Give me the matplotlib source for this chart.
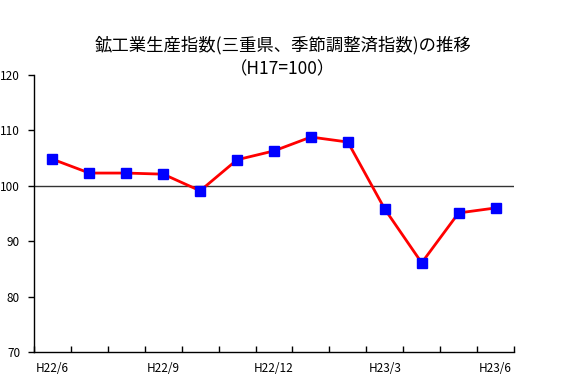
import matplotlib
matplotlib.use("Agg")
import matplotlib.pyplot as plt
import numpy as np

plt.rcParams["font.family"] = ["Noto Sans CJK JP", "DejaVu Sans"]

months = ["H22/6", "H22/7", "H22/8", "H22/9", "H22/10", "H22/11", "H22/12",
          "H23/1", "H23/2", "H23/3", "H23/4", "H23/5", "H23/6"]
index_values = [104.8, 102.3, 102.3, 102.1, 99.1, 104.7, 106.3,
                108.8, 107.9, 95.8, 86.1, 95.1, 96.0]
shown_labels = ["H22/6", "H22/9", "H22/12", "H23/3", "H23/6"]
title = "鉱工業生産指数(三重県、季節調整済指数)の推移\n（H17=100）"

fig = plt.figure(figsize=(5.66, 3.83), dpi=100)
ax = fig.add_axes([34 / 566, 1 - 352 / 383, 480 / 566, 277 / 383])

x = np.arange(len(months))
ax.axhline(100, color="#333333", linewidth=1.0, zorder=1)
ax.plot(x, index_values, color="red", linewidth=2.0, marker="s",
        markersize=6.5, markerfacecolor="blue", markeredgecolor="blue", zorder=3)

ax.set_xlim(-0.5, len(months) - 0.5)
ax.set_ylim(70, 120)
ax.set_yticks(np.arange(70, 121, 10))
ax.set_xticks(np.arange(-0.5, len(months), 1.0), minor=False)
ax.set_xticklabels([])
ax.set_xticks(x, minor=True)
ax.set_xticklabels([m if m in shown_labels else "" for m in months], minor=True)
ax.tick_params(axis="x", which="major", direction="in", length=4, width=1)
ax.tick_params(axis="x", which="minor", length=0, pad=7, labelsize=8.5)
ax.tick_params(axis="y", direction="out", length=4, width=1, labelsize=8.5, pad=6)

for side in ["top", "right"]:
    ax.spines[side].set_visible(False)
ax.spines["left"].set_linewidth(1)
ax.spines["bottom"].set_linewidth(1)

fig.text(0.5, 1 - 57 / 383, title, ha="center", va="center", fontsize=12.5,
         linespacing=1.4)

fig.savefig("out.png", dpi=100)
